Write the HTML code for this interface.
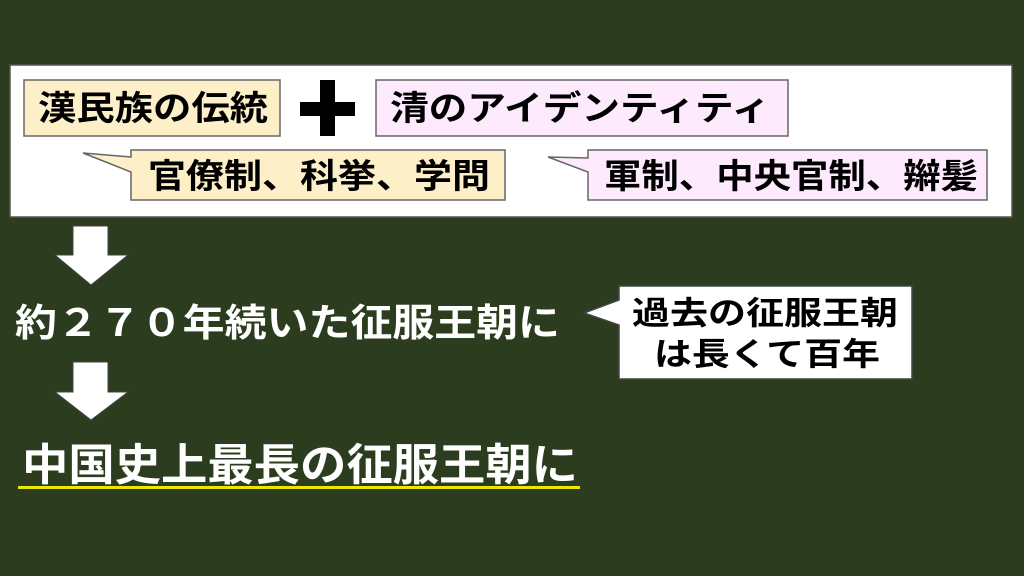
<!DOCTYPE html>
<html><head><meta charset="utf-8"><style>
html,body{margin:0;padding:0;background:#2b3d1e;}
svg{display:block;}
text{font-family:"Liberation Sans","Noto Sans CJK JP",sans-serif;font-weight:bold;}
</style></head><body>
<svg width="1024" height="576" viewBox="0 0 1024 576" xmlns="http://www.w3.org/2000/svg">
<rect width="1024" height="576" fill="#2b3d1e"/>
<rect x="10" y="65" width="1002" height="152" fill="#fff" stroke="#555" stroke-width="1.5"/>
<rect x="24" y="80" width="256" height="56" fill="#fdf0c8" stroke="#666" stroke-width="1.5"/>
<text x="38" y="120" font-size="34" textLength="230" lengthAdjust="spacingAndGlyphs" fill="#000">漢民族の伝統</text>
<rect x="300" y="102" width="55" height="14" fill="#000"/>
<rect x="320" y="80" width="15" height="56" fill="#000"/>
<rect x="376" y="80" width="412" height="56" fill="#fdeafd" stroke="#666" stroke-width="1.5"/>
<text x="390" y="120" font-size="34" textLength="380" lengthAdjust="spacingAndGlyphs" fill="#000">清のアイデンティティ</text>
<path d="M131,150 H505 V200 H131 V172 L83,153 L131,157 Z" fill="#fdf0c8" stroke="#666" stroke-width="1.5"/>
<text x="148" y="188" font-size="34" textLength="342" lengthAdjust="spacingAndGlyphs" fill="#000">官僚制、科挙、学問</text>
<path d="M588,150 H987 V200 H588 V172 L548,157 L588,158 Z" fill="#fdeafd" stroke="#666" stroke-width="1.5"/>
<text x="604" y="188" font-size="34" textLength="374" lengthAdjust="spacingAndGlyphs" fill="#000">軍制、中央官制、辮髪</text>
<path d="M73,226 H108 V255 H128 L91,285 L55,255 H73 Z" fill="#fff" stroke="#444" stroke-width="1"/>
<text x="15" y="336" font-size="38" textLength="545" lengthAdjust="spacingAndGlyphs" fill="#fff">約２７０年続いた征服王朝に</text>
<path d="M619,286 H912 V379 H619 V325 L584,313 L619,300 Z" fill="#fff" stroke="#444" stroke-width="1.5"/>
<text x="632" y="324" font-size="32" textLength="266" lengthAdjust="spacingAndGlyphs" fill="#000">過去の征服王朝</text>
<text x="654" y="365" font-size="32" textLength="226" lengthAdjust="spacingAndGlyphs" fill="#000">は長くて百年</text>
<path d="M73,362 H108 V392 H128 L91,420 L55,392 H73 Z" fill="#fff" stroke="#444" stroke-width="1"/>
<text x="22" y="480" font-size="44" textLength="556" lengthAdjust="spacingAndGlyphs" fill="#fff">中国史上最長の征服王朝に</text>
<rect x="18" y="486" width="562" height="3" fill="#e8e800"/>
</svg>
</body></html>
